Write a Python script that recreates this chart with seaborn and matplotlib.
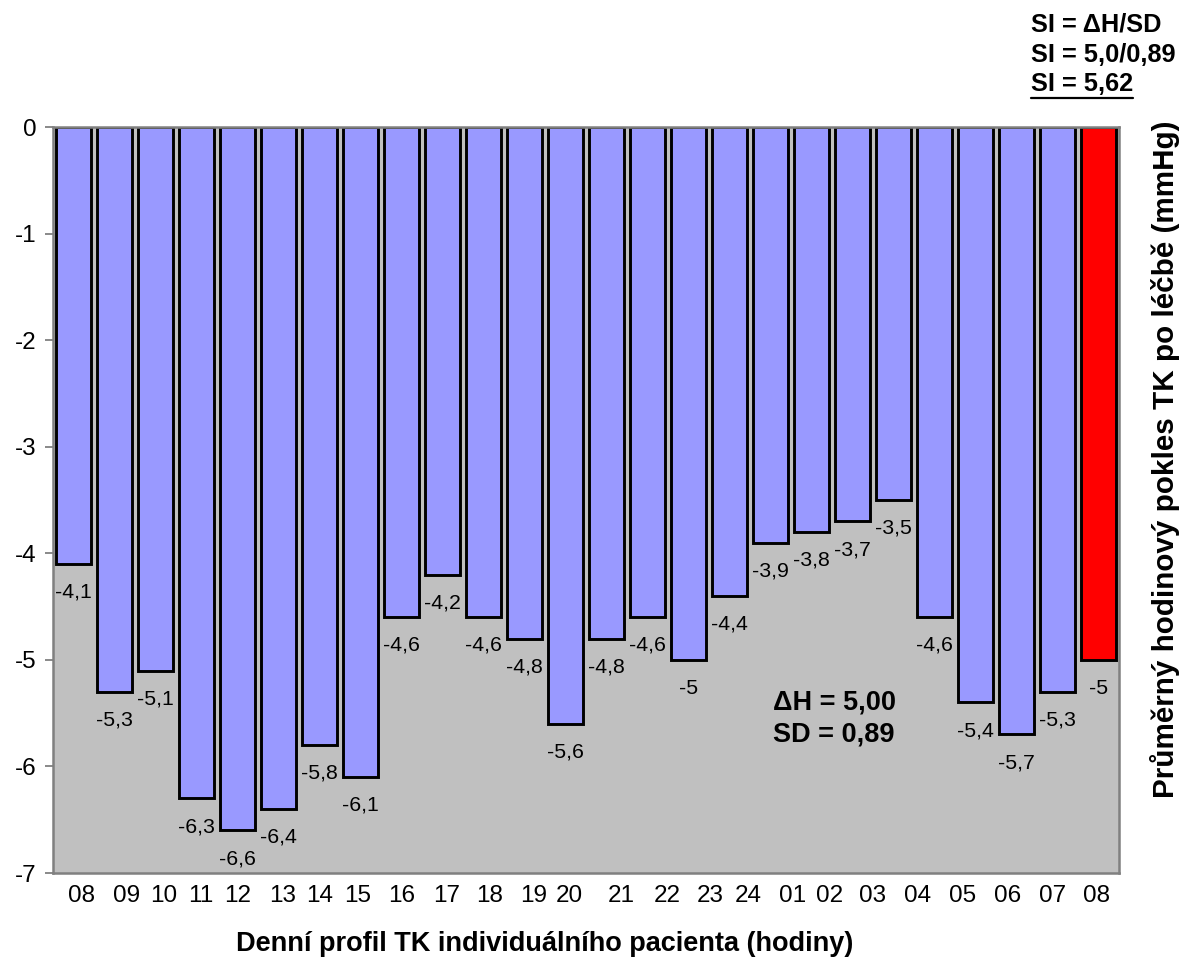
import numpy as np
import pandas as pd
import matplotlib
matplotlib.use("Agg")
import matplotlib.pyplot as plt
import seaborn as sns
from matplotlib.lines import Line2D

# Mean hourly drop of blood pressure after treatment (mmHg), 08:00 -> 08:00
hour_labels = ["08", "09", "10", "11", "12", "13", "14", "15", "16", "17", "18",
               "19", "20", "21", "22", "23", "24", "01", "02", "03", "04", "05",
               "06", "07", "08"]
hourly_drop = [-4.1, -5.3, -5.1, -6.3, -6.6, -6.4, -5.8, -6.1, -4.6, -4.2, -4.6,
               -4.8, -5.6, -4.8, -4.6, -5.0, -4.4, -3.9, -3.8, -3.7, -3.5, -4.6,
               -5.4, -5.7, -5.3]
mean_drop = -5.0          # overall mean drop (ΔH)
sd_text = "0,89"
si_text = "5,62"

# hour captions sit on a loosely spaced row under the bars
tick_pos = [0.20, 1.30, 2.20, 3.10, 4.01, 5.10, 6.01, 6.92, 8.01, 9.10, 10.15,
            11.23, 12.10, 13.37, 14.47, 15.52, 16.45, 17.54, 18.44, 19.49, 20.59,
            21.69, 22.79, 23.87, 24.96]

values = hourly_drop + [mean_drop]
df = pd.DataFrame({
    "slot": np.arange(len(values)),
    "value": values,
    "kind": ["hour"] * len(hourly_drop) + ["mean"],
})

sns.set_style("white")
plt.rcParams["font.family"] = ["Liberation Sans", "DejaVu Sans"]
plt.rcParams["axes.unicode_minus"] = False
plt.rcParams["text.color"] = "black"
plt.rcParams["xtick.color"] = "black"
plt.rcParams["ytick.color"] = "black"

W, H = 1185, 965
fig = plt.figure(figsize=(W / 100, H / 100), dpi=100)
ax = fig.add_axes([53 / W, 1 - 873 / H, (1119 - 53) / W, (873 - 127) / H])
ax.set_facecolor("#c0c0c0")

sns.barplot(data=df, x="slot", y="value", hue="kind",
            palette={"hour": "#9999ff", "mean": "#ff0000"},
            saturation=1, width=0.85, dodge=False, errorbar=None,
            edgecolor="black", linewidth=2.1, legend=False, ax=ax)


def fmt(v):
    return f"{v:g}".replace(".", ",")


for cont in ax.containers:
    ax.bar_label(cont, labels=[fmt(v) for v in cont.datavalues],
                 padding=13.5, fontsize=15.3, color="black")

ax.set_xlim(-0.5, len(values) - 0.5)
ax.set_ylim(-7, 0)
ax.set_yticks(range(-7, 1))
ax.set_xticks(tick_pos, hour_labels)
ax.set_xlabel("")
ax.set_ylabel("")
ax.tick_params(axis="x", length=0, pad=8.5, labelsize=17.5, labelcolor="black")
ax.tick_params(axis="y", length=5.8, width=1.3, color="#808080", pad=6,
               labelsize=17.5, labelcolor="black", left=True)
for s in ax.spines.values():
    s.set_visible(True)
    s.set_color("#808080")
    s.set_linewidth(1.8)

bold = dict(fontweight="bold", color="black")
fig.text(545 / W, 1 - 944 / H, "Denní profil TK individuálního pacienta (hodiny)",
         ha="center", va="center", fontsize=19.5, **bold)
fig.text(1165 / W, 1 - 459 / H, "Průměrný hodinový pokles TK po léčbě (mmHg)",
         ha="center", va="center", rotation=90, fontsize=21.3, **bold)

fig.text(773 / W, 1 - 702 / H, "ΔH = 5,00", ha="left", va="center",
         fontsize=19.5, **bold)
fig.text(773 / W, 1 - 734 / H, f"SD = {sd_text}", ha="left", va="center",
         fontsize=19.5, **bold)

fig.text(1031 / W, 1 - 25 / H, "SI = ΔH/SD", ha="left", va="center",
         fontsize=18.3, **bold)
fig.text(1031 / W, 1 - 55 / H, "SI = 5,0/" + sd_text, ha="left", va="center",
         fontsize=18.3, **bold)
si = fig.text(1031 / W, 1 - 84 / H, "SI = " + si_text, ha="left", va="center",
              fontsize=18.3, **bold)

fig.canvas.draw()
bb = si.get_window_extent()
fig.add_artist(Line2D([bb.x0 / W, bb.x1 / W], [(bb.y0 - 2) / H, (bb.y0 - 2) / H],
                      transform=fig.transFigure, color="black", linewidth=1.6))

fig.savefig("out.png", dpi=100, facecolor="white")
